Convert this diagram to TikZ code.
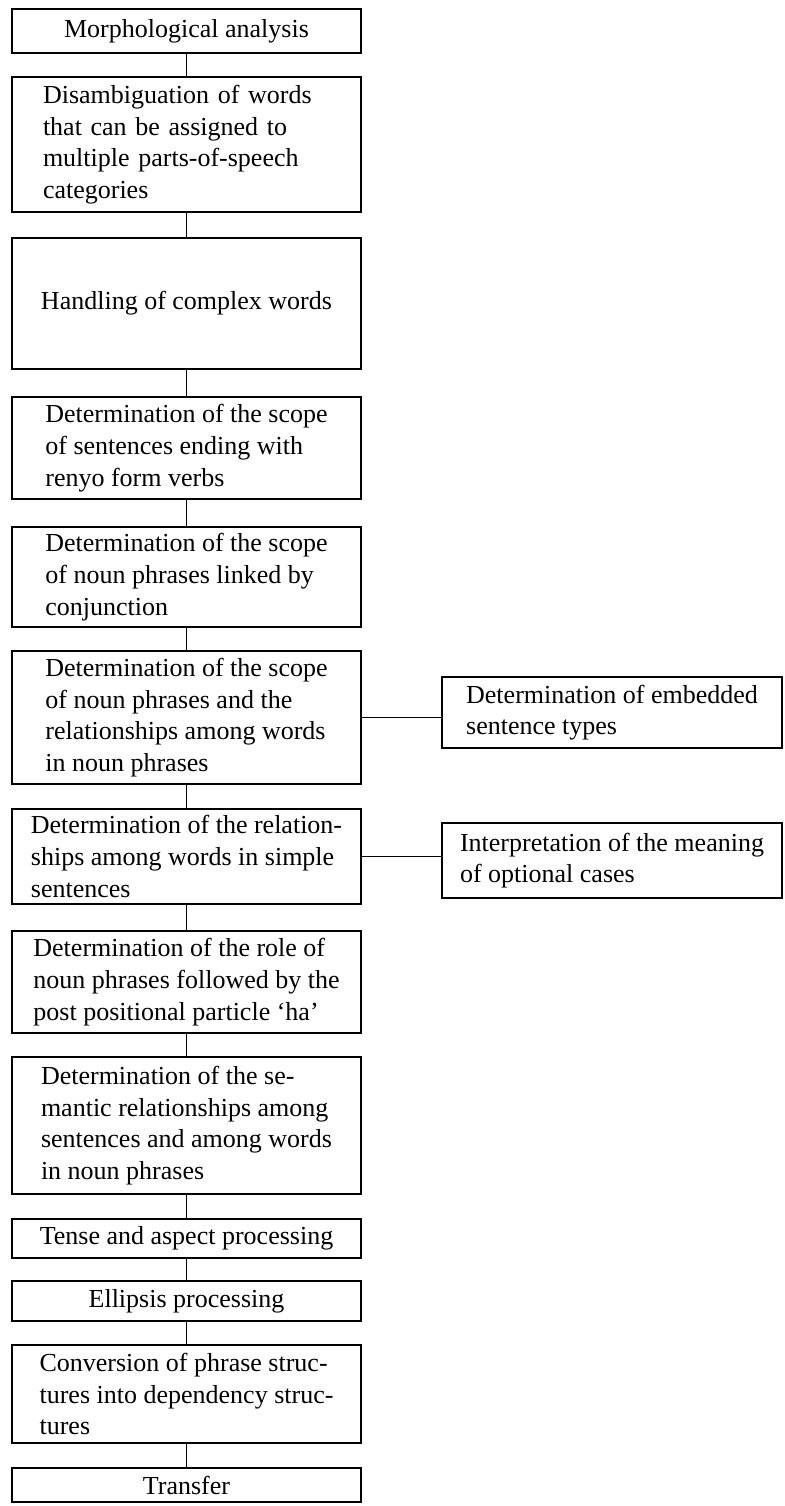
\documentclass[tikz,border=0pt]{standalone}
\usepackage{fontspec}
\setmainfont{Liberation Serif}

\begin{document}
\begin{tikzpicture}[
      x=0.5pt, y=-0.5pt,
      stage/.style={rectangle, draw, line width=1.3pt, inner sep=0pt, minimum width=174.5pt, font=\fontsize{13}{15.85}\selectfont},
      multi/.style={stage, align=left},
      side/.style={multi, minimum width=170pt},
      link/.style={line width=0.9pt}
    ]
      \useasboundingbox (0,0) rectangle (784,1506);

      % Main column
      \node[stage, minimum height=22pt] (morph) at (186.5,31) {Morphological analysis};
      \node[multi, text width=143.5pt, minimum height=67.5pt] (disamb) at (186.5,144.5) {Disambiguation of words\\that can be assigned to\\multiple parts-of-speech\\categories};
      \node[stage, minimum height=65.5pt] (complex) at (186.5,303.5) {Handling of complex words};
      \node[multi, minimum height=51pt] (renyo) at (186.5,448) {Determination of the scope\\of sentences ending with\\renyo form verbs};
      \node[multi, minimum height=50pt] (conj) at (186.5,577) {Determination of the scope\\of noun phrases linked by\\conjunction};
      \node[multi, minimum height=66.5pt] (nphr) at (186.5,717.5) {Determination of the scope\\of noun phrases and the\\relationships among words\\in noun phrases};
      \node[multi, minimum height=47.5pt] (simple) at (186.5,856.5) {Determination of the relation-\\ships among words in simple\\sentences};
      \node[multi, minimum height=51pt] (ha) at (186.5,982) {Determination of the role of\\noun phrases followed by the\\post positional particle ‘ha’};
      \node[multi, minimum height=68.5pt] (semantic) at (186.5,1125.5) {Determination of the se-\\mantic relationships among\\sentences and among words\\in noun phrases};
      \node[stage, minimum height=19.5pt] (tense) at (186.5,1238.5) {Tense and aspect processing};
      \node[stage, minimum height=20pt] (ellipsis) at (186.5,1301) {Ellipsis processing};
      \node[multi, minimum height=49pt] (convert) at (186.5,1394) {Conversion of phrase struc-\\tures into dependency struc-\\tures};
      \node[stage, minimum height=17pt] (transfer) at (186.5,1485) {Transfer};

      % Side boxes
      \node[side, minimum height=35.5pt] (embed) at (612,712.5) {Determination of embedded\\sentence types};
      \node[side, minimum height=37.5pt] (optional) at (612,860.5) {Interpretation of the meaning\\of optional cases};

      % Links main
      \draw[link] (morph.south) -- (disamb.north);
      \draw[link] (disamb.south) -- (complex.north);
      \draw[link] (complex.south) -- (renyo.north);
      \draw[link] (renyo.south) -- (conj.north);
      \draw[link] (conj.south) -- (nphr.north);
      \draw[link] (nphr.south) -- (simple.north);
      \draw[link] (simple.south) -- (ha.north);
      \draw[link] (ha.south) -- (semantic.north);
      \draw[link] (semantic.south) -- (tense.north);
      \draw[link] (tense.south) -- (ellipsis.north);
      \draw[link] (ellipsis.south) -- (convert.north);
      \draw[link] (convert.south) -- (transfer.north);

      % Links side
      \draw[link] (nphr.east) -- (nphr.east -| embed.west);
      \draw[link] (simple.east) -- (simple.east -| optional.west);

    \end{tikzpicture}
\end{document}
